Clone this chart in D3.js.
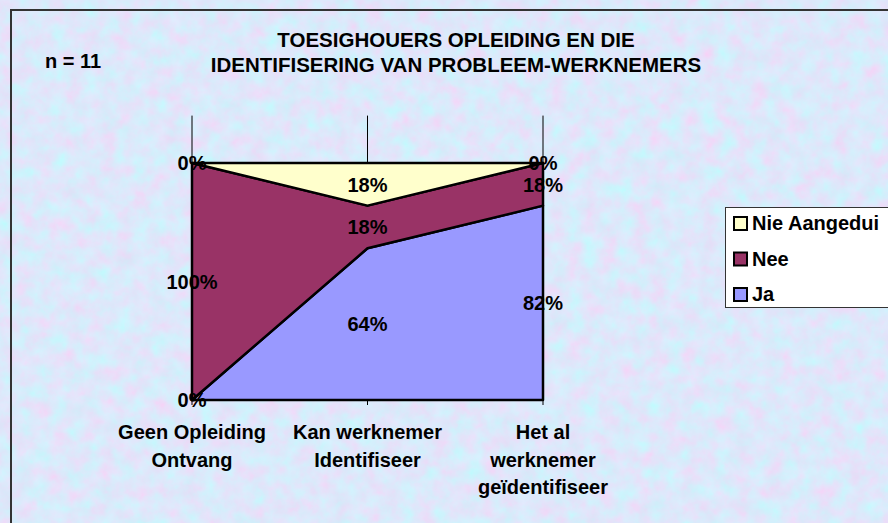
<!DOCTYPE html>
<html>
<head>
<meta charset="utf-8">
<style>
  body { margin: 0; background: #fff; }
  svg { display: block; }
  text { font-family: "Liberation Sans", Arial, sans-serif; font-weight: bold; fill: #000; }
</style>
</head>
<body>
<script src="https://cdn.jsdelivr.net/npm/d3@7"></script>
<script>
  const width = 888
  const height = 523

  // chart data
  const categories = ["Geen Opleiding|Ontvang", "Kan werknemer|Identifiseer", "Het al|werknemer|geïdentifiseer"]
  const seriesNames = ["Ja", "Nee", "Nie Aangedui"]
  const ja = [0, 64, 82]
  const nee = [100, 18, 18]
  const nieAangedui = [0, 18, 0]
  const titleLines = ["TOESIGHOUERS OPLEIDING EN DIE", "IDENTIFISERING VAN PROBLEEM-WERKNEMERS"]
  const sampleLabel = "n = 11"

  const colors = { "Ja": "#9999ff", "Nee": "#993366", "Nie Aangedui": "#ffffcc" }
  const fontSize = "20px"

  const rows = categories.map((c, i) => ({
    cat: c,
    "Ja": ja[i],
    "Nee": nee[i],
    "Nie Aangedui": nieAangedui[i]
  }))

  const svg = d3.select("body").append("svg")
    .attr("width", width)
    .attr("height", height)

  // marbled background
  const defs = svg.append("defs")
  const filter = defs.append("filter")
    .attr("id", "marble")
    .attr("filterUnits", "userSpaceOnUse")
    .attr("x", 0).attr("y", 0)
    .attr("width", width).attr("height", height)
  filter.append("feTurbulence")
    .attr("type", "fractalNoise")
    .attr("baseFrequency", "0.06")
    .attr("numOctaves", 4)
    .attr("seed", 7)
  filter.append("feColorMatrix")
    .attr("type", "matrix")
    .attr("values", [
      0.32, -0.24, 0, 0, 0.68,
      -0.18, 0.26, 0, 0, 0.77,
      0, 0.08, 0, 0, 0.92,
      0, 0, 0, 0, 1
    ].join(" "))

  svg.append("rect")
    .attr("x", 11).attr("y", 10)
    .attr("width", width - 11).attr("height", height - 10)
    .attr("filter", "url(#marble)")

  // frame
  svg.append("path")
    .attr("d", `M11,${height}V10H${width}`)
    .attr("fill", "none")
    .attr("stroke", "#333")
    .attr("stroke-width", 2)

  const x = d3.scalePoint()
    .domain(categories)
    .range([192, 543])

  const y = d3.scaleLinear()
    .domain([0, 120])
    .range([400, 115.6])

  const stack = d3.stack().keys(seriesNames)
  const layers = stack(rows)

  const area = d3.area()
    .x(d => x(d.data.cat))
    .y0(d => y(d[0]))
    .y1(d => y(d[1]))

  // category gridlines
  svg.append("g")
    .selectAll("line")
    .data(categories)
    .join("line")
    .attr("x1", d => x(d)).attr("x2", d => x(d))
    .attr("y1", y(120)).attr("y2", y(0) + 5)
    .attr("stroke", "#000")
    .attr("stroke-width", 1)

  svg.append("g")
    .selectAll("path")
    .data(layers)
    .join("path")
    .attr("d", area)
    .attr("fill", d => colors[d.key])
    .attr("stroke", "#000")
    .attr("stroke-width", 2.5)
    .attr("stroke-linejoin", "round")

  // value labels
  const labels = []
  layers.forEach(layer => {
    layer.forEach(d => {
      labels.push({ x: x(d.data.cat), y: y((d[0] + d[1]) / 2), v: d.data[layer.key] })
    })
  })
  svg.append("g")
    .selectAll("text")
    .data(labels)
    .join("text")
    .attr("x", d => d.x)
    .attr("y", d => d.y)
    .attr("dy", "0.36em")
    .attr("text-anchor", "middle")
    .style("font-size", fontSize)
    .text(d => d.v + "%")

  // category labels
  const catLabels = svg.append("g")
    .selectAll("text")
    .data(categories)
    .join("text")
    .attr("text-anchor", "middle")
    .attr("y", 432)
    .style("font-size", fontSize)
  catLabels.selectAll("tspan")
    .data(d => d.split("|").map(t => ({ t, cat: d })))
    .join("tspan")
    .attr("x", d => x(d.cat))
    .attr("dy", (d, i) => i === 0 ? "0.36em" : "27.5px")
    .text(d => d.t)

  // title
  svg.append("text")
    .attr("text-anchor", "middle")
    .attr("y", 40)
    .style("font-size", "20.5px")
    .selectAll("tspan")
    .data(titleLines)
    .join("tspan")
    .attr("x", 456)
    .attr("dy", (d, i) => i === 0 ? "0.36em" : "25px")
    .text(d => d)

  svg.append("text")
    .attr("x", 45)
    .attr("y", 61)
    .attr("dy", "0.36em")
    .style("font-size", fontSize)
    .text(sampleLabel)

  // legend
  const legend = svg.append("g")
  legend.append("rect")
    .attr("x", 725.5).attr("y", 207.5)
    .attr("width", 200).attr("height", 100)
    .attr("fill", "#fff")
    .attr("stroke", "#333")
    .attr("stroke-width", 1)

  const legendItems = legend.selectAll("g.item")
    .data(seriesNames.slice().reverse())
    .join("g")
    .attr("class", "item")
    .attr("transform", (d, i) => `translate(0, ${223 + i * 35.5})`)
  legendItems.append("rect")
    .attr("x", 734).attr("y", -6)
    .attr("width", 13).attr("height", 13)
    .attr("fill", d => colors[d])
    .attr("stroke", "#000")
    .attr("stroke-width", 2)
  legendItems.append("text")
    .attr("x", 752)
    .attr("dy", "0.36em")
    .style("font-size", fontSize)
    .text(d => d)
</script>
</body>
</html>
